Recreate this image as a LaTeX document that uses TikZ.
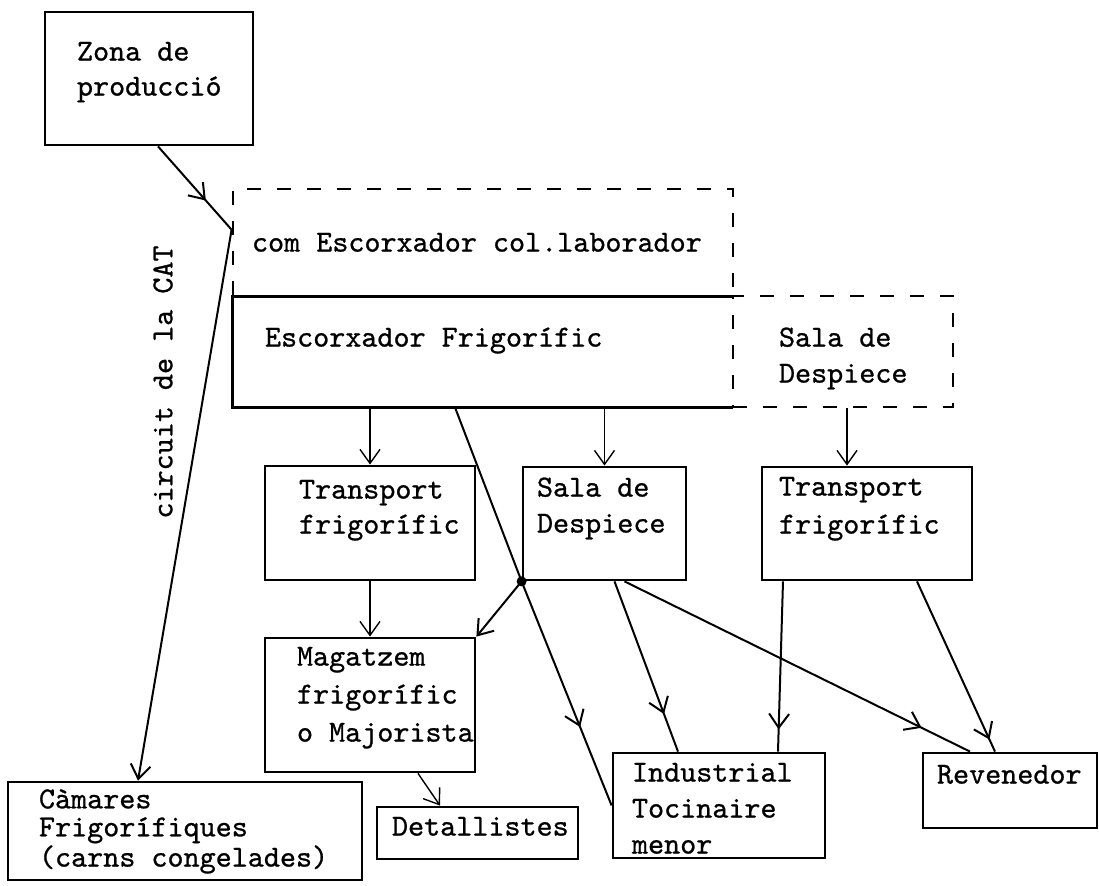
\documentclass[tikz,border=0pt]{standalone}
\usepackage{fontspec}
\newfontfamily\twfont[FakeBold=0.8]{lmmono10-regular.otf}
\usetikzlibrary{arrows.meta, positioning, calc, decorations.markings}

\begin{document}
\begin{tikzpicture}[
    x=0.5pt, y=-0.5pt,
    box/.style={rectangle, draw=black, line width=1.4pt, inner sep=0pt},
    dashbox/.style={box, dash pattern=on 7pt off 8pt},
    txt/.style={inner sep=0pt, anchor=base west, align=left,
                font=\twfont\fontsize{15.3}{#1}\selectfont},
    txt/.default=17.5pt,
    link/.style={line width=1pt},
    thinlink/.style={line width=0.7pt},
    arrow/.style={-{Straight Barb[length=7pt, width=10pt]}},
    midarrow/.style={postaction={decorate}, decoration={markings,
        mark=at position #1 with {\arrow{Straight Barb[length=7pt, width=10pt]}}}}
]
\useasboundingbox (0,0) rectangle (1099,886);

% boxes
\node[box, minimum width=104pt, minimum height=66.5pt] (zona) at (149,78.5) {};
\node[dashbox, minimum width=250pt, minimum height=54pt] (colab) at (483,243) {};
\node[minimum width=250pt, minimum height=55pt, inner sep=0pt] (escorx) at (483,352) {};
\node[dashbox, minimum width=110pt, minimum height=55.5pt] (salaA) at (843,351.5) {};
\node[box, minimum width=105pt, minimum height=57pt] (transA) at (370,523) {};
\node[box, minimum width=81.5pt, minimum height=56.5pt] (salaB) at (604.5,523.5) {};
\node[box, minimum width=105pt, minimum height=56.5pt] (transB) at (867,523.5) {};
\node[box, minimum width=105pt, minimum height=67pt] (magat) at (370,705) {};
\node[box, minimum width=100.5pt, minimum height=26pt] (detall) at (477.5,833) {};
\node[box, minimum width=177pt, minimum height=49pt] (camares) at (185,831) {};
\node[box, minimum width=106pt, minimum height=52.5pt] (indus) at (719,805.5) {};
\node[box, minimum width=87pt, minimum height=37.5pt] (reven) at (1010,790.5) {};

% escorxador: right side is the dashed side of the sala
\draw[line width=1.4pt] (escorx.north east) -- (escorx.north west)
    -- (escorx.south west) -- (escorx.south east);

% texts (base = last line)
\node[txt] (zonaT) at ($(zona.north west)+(33,85)$) {Zona de\\producció};
\node[txt] (colabT) at ($(colab.north west)+(20,64)$) {com Escorxador col.laborador};
\node[txt] (escorxT) at ($(escorx.north west)+(32,50)$) {Escorxador Frigorífic};
\node[txt=18pt] (salaAT) at ($(salaA.north west)+(47,88)$) {Sala de\\Despiece};
\node[txt] (transAT) at ($(transA.north west)+(35,69)$) {Transport\\frigorífic};
\node[txt=18pt] (salaBT) at ($(salaB.north west)+(15,67)$) {Sala de\\Despiece};
\node[txt=19pt] (transBT) at ($(transB.north west)+(18,68)$) {Transport\\frigorífic};
\node[txt=19pt] (magatT) at ($(magat.north west)+(33,105)$) {Magatzem\\frigorífic\\o Majorista};
\node[txt] (detallT) at ($(detall.north west)+(16,30)$) {Detallistes};
\node[txt=14pt] (camaresT) at ($(camares.north west)+(32,86)$) {Càmares\\Frigorífiques\\(carns congelades)};
\node[txt=18pt] (indusT) at ($(indus.north west)+(20,102)$) {Industrial\\Tocinaire\\menor};
\node[txt] (revenT) at ($(reven.north west)+(15,32)$) {Revenedor};
\node[txt, anchor=center, rotate=90] (cat) at (163,382) {circuit de la CAT};

% connectors
\coordinate (kink) at ($(colab.north west)!0.38!(colab.south west)$);
\draw[link, midarrow=0.65] ([xshift=4.5pt]zona.south) -- (kink);
\draw[link, arrow] (kink) -- ([xshift=-23.5pt]camares.north);

\draw[thinlink, arrow] (transA.north |- escorx.south) -- (transA.north);
\draw[thinlink, arrow] (salaB.north |- escorx.south) -- (salaB.north);
\draw[thinlink, arrow] ([xshift=2pt]salaA.south) -- ([xshift=2pt]salaA.south |- transB.north);
\draw[thinlink, arrow] (transA.south) -- (magat.north);

\draw[link] ([xshift=-14pt]escorx.south) -- (salaB.south west);
\draw[link, midarrow=0.65] (salaB.south west) -- (indus.west);
\fill (salaB.south west) circle (2.5pt);
\draw[link, arrow] (salaB.south west) -- (magat.north east);

\draw[link, midarrow=0.78] ([xshift=5pt]salaB.south) -- ([xshift=-20.5pt]indus.north);
\draw[link, midarrow=0.86] ([xshift=10pt]salaB.south) -- ([xshift=-20pt]reven.north);
\draw[link, midarrow=0.87] ([xshift=-42pt]transB.south) -- ([xshift=29.5pt]indus.north);
\draw[link, midarrow=0.93] ([xshift=25pt]transB.south) -- ([xshift=-7.5pt]reven.north);
\draw[thinlink, arrow] ([xshift=24pt]magat.south) -- ([xshift=-18.75pt]detall.north);

\end{tikzpicture}
\end{document}
